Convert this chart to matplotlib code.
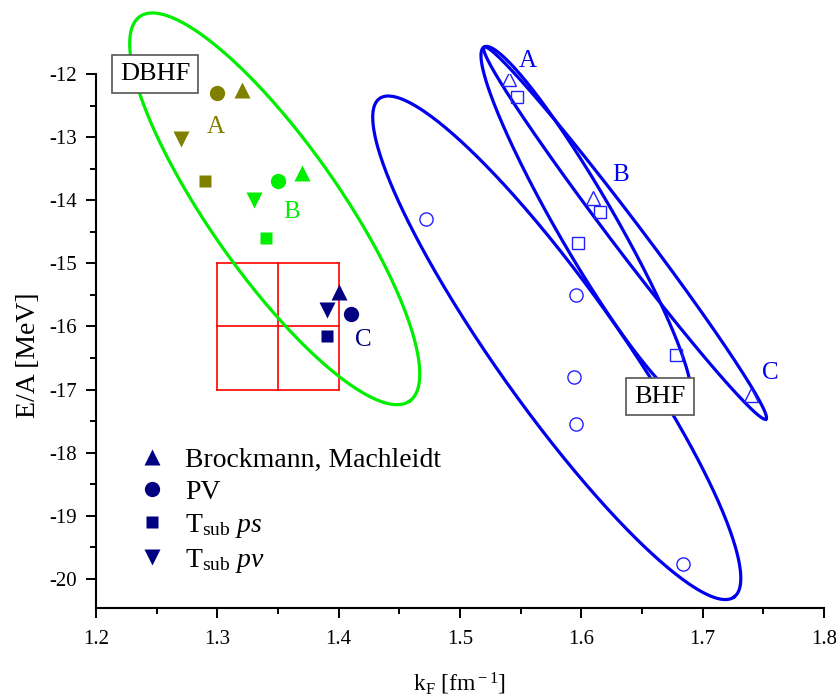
import numpy as np
import matplotlib
matplotlib.use('Agg')
import matplotlib.pyplot as plt
from matplotlib.lines import Line2D
from matplotlib.ticker import MultipleLocator, FuncFormatter

plt.rcParams['font.family'] = ['Liberation Serif', 'DejaVu Serif']
plt.rcParams['mathtext.fontset'] = 'custom'
plt.rcParams['mathtext.rm'] = 'Liberation Serif'
plt.rcParams['mathtext.it'] = 'Liberation Serif:italic'

# DBHF nuclear matter saturation points, potentials A, B, C
dbhf_sets = ['A', 'B', 'C']
dbhf_colors = ['#808000', '#00ee00', '#000080']
bm_k = [1.32, 1.37, 1.40]          # Brockmann, Machleidt
bm_e = [-12.25, -13.57, -15.46]
pv_k = [1.30, 1.35, 1.41]          # PV
pv_e = [-12.30, -13.70, -15.80]
ps_k = [1.29, 1.34, 1.39]          # T_sub ps
ps_e = [-13.70, -14.60, -16.15]
tpv_k = [1.27, 1.33, 1.39]         # T_sub pv
tpv_e = [-13.03, -14.00, -15.74]

# BHF saturation points
bhf_circ_k = [1.472, 1.596, 1.594, 1.596, 1.684]
bhf_circ_e = [-14.30, -15.50, -16.80, -17.55, -19.76]
bhf_sq_k = [1.547, 1.615, 1.597, 1.678]
bhf_sq_e = [-12.37, -14.18, -14.68, -16.45]
bhf_tri_k = [1.540, 1.610, 1.740]
bhf_tri_e = [-12.08, -13.97, -17.08]

# empirical saturation box
emp_k = [1.30, 1.35, 1.40]
emp_e = [-17.0, -16.0, -15.0]

legend_labels = ['Brockmann, Machleidt', 'PV',
                 r'T$_{\rm sub}$ $\it{ps}$', r'T$_{\rm sub}$ $\it{pv}$']


def ellipse(ax, p1, p2, half_width, **kw):
    # ellipse between two tips, width given in display pixels
    d = ax.transData.transform([p1, p2])
    c = d.mean(axis=0)
    u = (d[1] - d[0]) / 2
    v = np.array([-u[1], u[0]]) / np.hypot(*u) * half_width
    t = np.linspace(0, 2 * np.pi, 500)
    pts = c + np.outer(np.cos(t), u) + np.outer(np.sin(t), v)
    xy = ax.transData.inverted().transform(pts)
    ax.plot(xy[:, 0], xy[:, 1], clip_on=False, **kw)


fig = plt.figure(figsize=(8.37, 6.99), dpi=100)
ax = fig.add_axes([96/837, 1-608/699, 728/837, 534/699])
ax.set_xlim(1.2, 1.8)
ax.set_ylim(-20.46, -12)

for s in ['top', 'right']:
    ax.spines[s].set_visible(False)
for s in ['left', 'bottom']:
    ax.spines[s].set_linewidth(1.5)

ax.xaxis.set_major_locator(MultipleLocator(0.1))
ax.xaxis.set_minor_locator(MultipleLocator(0.05))
ax.yaxis.set_major_locator(MultipleLocator(1))
ax.yaxis.set_minor_locator(MultipleLocator(0.5))
ax.tick_params(which='major', direction='out', length=7.5, width=1.4, labelsize=15, pad=6)
ax.tick_params(axis='x', which='major', pad=8)
ax.tick_params(which='minor', direction='out', length=4, width=1.4)
ax.xaxis.set_major_formatter(FuncFormatter(lambda v, p: '%g' % v))
ax.yaxis.set_major_formatter(FuncFormatter(lambda v, p: '%d' % round(v)))

ax.set_xlabel(r'k$_{\rm F}$ [fm$^{\rm -1}$]', fontsize=17, labelpad=16)
ax.set_ylabel('E/A [MeV]', fontsize=20)
ax.yaxis.set_label_coords(-0.0755, 0.474)

# empirical region
lw_box = 1.2
for k in [emp_k[0], emp_k[1], emp_k[-1]]:
    ax.plot([k, k], [emp_e[0], emp_e[-1]], color='red', lw=lw_box)
for e in [emp_e[0], emp_e[1], emp_e[-1]]:
    ax.plot([emp_k[0], emp_k[-1]], [e, e], color='red', lw=lw_box)

# error ellipses
ellipse(ax, (1.2361, -11.090), (1.4585, -17.182), 65, color='#00ee00', lw=2.3)
ellipse(ax, (1.4337, -12.388), (1.7258, -20.287), 61, color='#0000ee', lw=2.3)
ellipse(ax, (1.5198, -11.572), (1.6879, -17.166), 29, color='#0000ee', lw=2.3)
ellipse(ax, (1.5198, -11.572), (1.7522, -17.467), 15, color='#0000ee', lw=2.3)

# DBHF points
ms = 11
for i, col in enumerate(dbhf_colors):
    ax.plot(bm_k[i], bm_e[i], '^', color=col, ms=ms, mec='none')
    ax.plot(pv_k[i], pv_e[i], 'o', color=col, ms=ms, mec='none')
    ax.plot(ps_k[i], ps_e[i], 's', color=col, ms=ms - 2, mec='none')
    ax.plot(tpv_k[i], tpv_e[i], 'v', color=col, ms=ms, mec='none')

dbhf_lbl_pos = [(1.299, -12.84), (1.361, -14.19), (1.420, -16.22)]
for (x, y), name, col in zip(dbhf_lbl_pos, dbhf_sets, dbhf_colors):
    ax.text(x, y, name, color=col, fontsize=18, ha='center', va='center')

# BHF points
bhf_col = '#2222ff'
ax.plot(bhf_circ_k, bhf_circ_e, 'o', ls='none', mfc='none', mec=bhf_col, ms=9.5, mew=1)
ax.plot(bhf_sq_k, bhf_sq_e, 's', ls='none', mfc='none', mec=bhf_col, ms=9, mew=1)
ax.plot(bhf_tri_k, bhf_tri_e, '^', ls='none', mfc='none', mec=bhf_col, ms=10, mew=1)

bhf_lbl_pos = [(1.556, -11.79), (1.632, -13.60), (1.7555, -16.74)]
for (x, y), name in zip(bhf_lbl_pos, dbhf_sets):
    ax.text(x, y, name, color='#0000ee', fontsize=18, ha='center', va='center')

box = dict(boxstyle='square,pad=0.3', fc='white', ec='#555555', lw=1.2)
ax.text(1.2486, -12.0, 'DBHF', fontsize=19, ha='center', va='center', bbox=box, zorder=5,
        clip_on=False)
ax.text(1.6648, -17.11, 'BHF', fontsize=19, ha='center', va='center', bbox=box, zorder=5)

handles = [Line2D([], [], marker=m, ls='none', color='#000080', ms=ms if m != 's' else ms - 2,
                  mec='none') for m in ['^', 'o', 's', 'v']]
ax.legend(handles, legend_labels, loc='upper left', bbox_to_anchor=(0.024, 0.348),
          frameon=False, fontsize=20, handlelength=1.0, handletextpad=0.69,
          labelspacing=0.25)

fig.savefig('out.png', dpi=100)
